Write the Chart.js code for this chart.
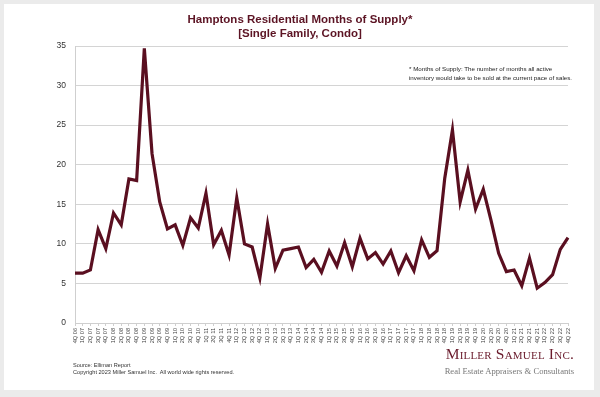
<!DOCTYPE html>
<html lang="en">
<head>
<meta charset="UTF-8">
<title>Hamptons Residential Months of Supply</title>
<style>
    html, body { margin: 0; padding: 0; }
    body {
        width: 600px;
        height: 397px;
        background: #ebebeb;
        position: relative;
        overflow: hidden;
        font-family: "Liberation Sans", Arial, sans-serif;
    }
    .card {
        position: absolute;
        left: 4px; top: 4px;
        width: 590px; height: 386px;
        background: #fff;
    }
    .wrap {
        position: absolute;
        left: 0; top: 0;
        width: 600px; height: 397px;
    }
    .title {
        position: absolute;
        left: 0; width: 600px;
        top: 13px;
        text-align: center;
        color: #5c1424;
        font-weight: bold;
        font-size: 11.5px;
        line-height: 13.5px;
    }
    .note {
        position: absolute;
        left: 409px; top: 64px;
        font-size: 6.2px;
        line-height: 9px;
        color: #222;
    }
    .source {
        position: absolute;
        left: 73px; top: 362px;
        font-size: 5.6px;
        line-height: 7px;
        color: #333;
    }
    .logo {
        position: absolute;
        left: 380px; top: 344px;
        width: 194px;
        text-align: right;
        font-family: "Liberation Serif", "DejaVu Serif", serif;
    }
    .logo .name {
        color: #6a1b2c;
        font-size: 15.5px;
        font-variant: small-caps;
        letter-spacing: 0.2px;
        line-height: 19px;
    }
    .logo .sub {
        color: #777;
        font-size: 8.6px;
        line-height: 11px;
        margin-top: 3px;
    }
</style>
</head>
<body>
    <div class="card"></div>
    <div class="wrap"><canvas id="myChart" width="600" height="397"></canvas></div>
    <div class="title">Hamptons Residential Months of Supply*<br>[Single Family, Condo]</div>
    <div class="note">* Months of Supply: The number of months all active<br>inventory would take to be sold at the current pace of sales.</div>
    <div class="source">Source: Elliman Report<br>Copyright 2023 Miller Samuel Inc.&nbsp; All world wide rights reserved.</div>
    <div class="logo">
        <div class="name">Miller Samuel Inc.</div>
        <div class="sub">Real Estate Appraisers &amp; Consultants</div>
    </div>

    <script src="https://cdn.jsdelivr.net/npm/chart.js"></script>
    <script>
        // quarters 4Q 06 .. 4Q 22
        var quarters = [
            '4Q 06',
            '1Q 07', '2Q 07', '3Q 07', '4Q 07',
            '1Q 08', '2Q 08', '3Q 08', '4Q 08',
            '1Q 09', '2Q 09', '3Q 09', '4Q 09',
            '1Q 10', '2Q 10', '3Q 10', '4Q 10',
            '1Q 11', '2Q 11', '3Q 11', '4Q 11',
            '1Q 12', '2Q 12', '3Q 12', '4Q 12',
            '1Q 13', '2Q 13', '3Q 13', '4Q 13',
            '1Q 14', '2Q 14', '3Q 14', '4Q 14',
            '1Q 15', '2Q 15', '3Q 15', '4Q 15',
            '1Q 16', '2Q 16', '3Q 16', '4Q 16',
            '1Q 17', '2Q 17', '3Q 17', '4Q 17',
            '1Q 18', '2Q 18', '3Q 18', '4Q 18',
            '1Q 19', '2Q 19', '3Q 19', '4Q 19',
            '1Q 20', '2Q 20', '3Q 20', '4Q 20',
            '1Q 21', '2Q 21', '3Q 21', '4Q 21',
            '1Q 22', '2Q 22', '3Q 22', '4Q 22'
        ];

        var monthsOfSupply = [
            6.3,
            6.3, 6.7, 11.8, 9.4,
            13.9, 12.4, 18.2, 18.0,
            34.7, 21.4, 15.3, 11.9,
            12.4, 9.8, 13.3, 12.0,
            16.4, 9.9, 11.7, 8.6,
            15.8, 10.0, 9.6, 5.7,
            12.5, 6.9, 9.2, 9.4,
            9.6, 7.0, 8.05, 6.4,
            9.1, 7.2, 10.15, 7.1,
            10.7, 8.1, 8.9, 7.45,
            9.1, 6.35, 8.5, 6.6,
            10.5, 8.3, 9.15, 18.3,
            24.4, 15.3, 19.3, 14.4,
            16.9, 13.0, 8.8, 6.5,
            6.7, 4.7, 8.2, 4.4,
            5.1, 6.1, 9.3, 10.8
        ];

        var yTicks = [0, 5, 10, 15, 20, 25, 30, 35];

        var ctx = document.getElementById('myChart').getContext('2d');
        var myChart = new Chart(ctx, {
            type: 'line',
            data: {
                labels: quarters,
                datasets: [{
                    data: monthsOfSupply,
                    borderColor: '#5a0f20',
                    borderWidth: 3.2,
                    pointRadius: 0,
                    tension: 0,
                    fill: false,
                    borderJoinStyle: 'miter'
                }]
            },
            options: {
                responsive: false,
                animation: false,
                layout: {
                    padding: { left: 35, right: 32, top: 46, bottom: 44 }
                },
                plugins: {
                    legend: { display: false },
                    tooltip: { enabled: false }
                },
                scales: {
                    x: {
                        offset: false,
                        grid: {
                            display: true,
                            drawOnChartArea: false,
                            drawTicks: true,
                            tickLength: 3,
                            color: '#cfcfcf'
                        },
                        border: { color: '#cfcfcf' },
                        ticks: {
                            autoSkip: false,
                            maxRotation: 90,
                            minRotation: 90,
                            padding: 2,
                            color: '#444',
                            font: { family: 'Liberation Sans', size: 5.6 }
                        },
                        afterFit: function(scale) { scale.height = 30; }
                    },
                    y: {
                        min: 0,
                        max: 35,
                        afterBuildTicks: function(scale) {
                            scale.ticks = yTicks.map(function(v) { return { value: v }; });
                        },
                        grid: {
                            color: '#d4d4d4',
                            lineWidth: 1,
                            drawTicks: false
                        },
                        border: { color: '#cfcfcf' },
                        ticks: {
                            padding: 9,
                            color: '#333',
                            font: { family: 'Liberation Sans', size: 8.5 }
                        },
                        afterFit: function(scale) { scale.width = 40; }
                    }
                }
            }
        });
    </script>
</body>
</html>
